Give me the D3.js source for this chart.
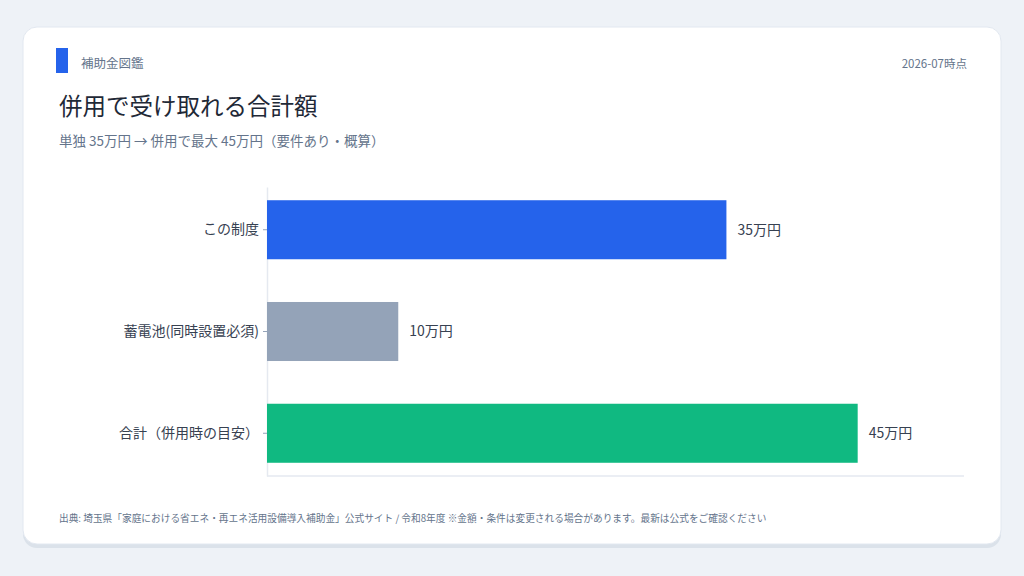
<!DOCTYPE html>
<html><head><meta charset="utf-8">
<script src="https://cdn.jsdelivr.net/npm/d3@7"></script>
<style>
html,body{margin:0;padding:0;background:#eef2f7;}
svg{display:block;font-family:"Noto Sans CJK JP","Noto Sans",sans-serif;}
</style></head>
<body>
<svg id="chart" width="1024" height="576"></svg>
<script>
const categories = ["この制度", "蓄電池(同時設置必須)", "合計（併用時の目安）"];
const values = [35, 10, 45];
const valueLabels = ["35万円", "10万円", "45万円"];
const barColors = ["#2563eb", "#94a3b8", "#10b981"];
const brand = "補助金図鑑";
const dateLabel = "2026-07時点";
const title = "併用で受け取れる合計額";
const subtitle = "単独 35万円 → 併用で最大 45万円（要件あり・概算）";
const footer = "出典: 埼玉県「家庭における省エネ・再エネ活用設備導入補助金」公式サイト / 令和8年度 ※金額・条件は変更される場合があります。最新は公式をご確認ください";

const svg = d3.select("#chart");
svg.append("rect").attr("width",1024).attr("height",576).attr("fill","#eef2f7");
// card shadow
svg.append("rect").attr("x",23).attr("y",30).attr("width",978).attr("height",518).attr("rx",14).attr("fill","#dbe2ea");
svg.append("rect").attr("x",23).attr("y",27).attr("width",978).attr("height",517).attr("rx",14)
  .attr("fill","#ffffff").attr("stroke","#e2e8f0").attr("stroke-width",1);

// header
svg.append("rect").attr("x",56).attr("y",48).attr("width",12).attr("height",25).attr("fill","#2563eb");
svg.append("text").attr("x",81).attr("y",68).attr("font-size",12.5).attr("fill","#64748b").text(brand);
svg.append("text").attr("x",967).attr("y",68).attr("text-anchor","end").attr("font-size",11.5).attr("fill","#64748b").text(dateLabel);
svg.append("text").attr("x",59).attr("y",115).attr("font-size",23.5).attr("fill","#1f2937").text(title);
svg.append("text").attr("x",59).attr("y",146).attr("font-size",13.5).attr("fill","#64748b").text(subtitle);
svg.append("text").attr("x",59).attr("y",522).attr("font-size",9.7).attr("fill","#64748b").text(footer);

// chart
const x0 = 267, x1 = 964, yTop = 187, yBot = 476;
const x = d3.scaleLinear().domain([0, d3.max(values) * 1.18]).range([x0, x1]);
const y = d3.scaleBand().domain(categories).range([yTop, yBot]).paddingInner(0.42).paddingOuter(0.13);

// axes lines
svg.append("line").attr("x1",x0).attr("x2",x1).attr("y1",yBot).attr("y2",yBot).attr("stroke","#e5e9f0").attr("stroke-width",1.5);
const yAxis = svg.append("g").attr("transform",`translate(${x0},0)`)
  .call(d3.axisLeft(y).tickSize(4).tickPadding(4).tickSizeOuter(0));
yAxis.select(".domain").attr("stroke","#e5e9f0").attr("stroke-width",1.5);
yAxis.selectAll(".tick line").attr("stroke","#94a3b8");
yAxis.selectAll(".tick text").attr("font-size",14).attr("fill","#374151")
  .attr("font-family",'"Noto Sans CJK JP","Noto Sans",sans-serif');

const data = categories.map((c,i)=>({c, v: values[i], label: valueLabels[i], color: barColors[i]}));
svg.append("g").selectAll("rect").data(data).join("rect")
  .attr("x", x(0)).attr("y", d=>y(d.c))
  .attr("width", d=>x(d.v)-x(0)).attr("height", y.bandwidth())
  .attr("fill", d=>d.color);
svg.append("g").selectAll("text").data(data).join("text")
  .attr("x", d=>x(d.v)+11).attr("y", d=>y(d.c)+y.bandwidth()/2)
  .attr("dy","0.35em").attr("font-size",14).attr("fill","#374151").text(d=>d.label);
</script>
</body></html>
